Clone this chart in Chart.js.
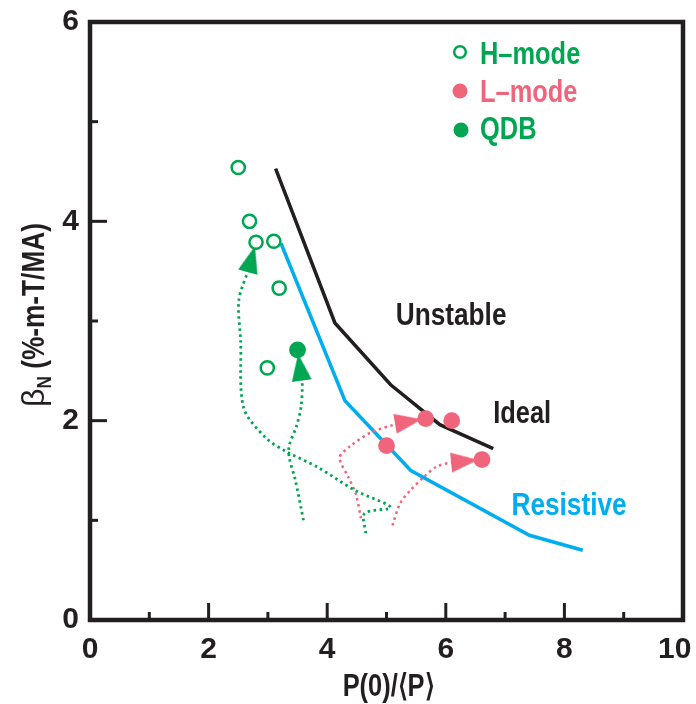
<!DOCTYPE html>
<html><head><meta charset="utf-8">
<script src="https://cdn.jsdelivr.net/npm/chart.js@4.4.1/dist/chart.umd.min.js"></script>
<style>html,body{margin:0;padding:0;background:#fff}#wrap{width:696px;height:704px}</style>
</head><body><div id="wrap"><canvas id="c" width="696" height="704"></canvas></div>
<script>
// ---------- data ----------
const seriesNames = ['H\u2013mode', 'L\u2013mode', 'QDB'];
const hModeX = [2.50, 2.69, 2.80, 3.10, 3.19, 2.99];
const hModeY = [4.54, 4.00, 3.79, 3.80, 3.33, 2.53];
const lModeX = [5.66, 6.10, 5.00, 6.61];
const lModeY = [2.02, 2.00, 1.75, 1.61];
const qdbX = [3.50];
const qdbY = [2.71];
const curveNames = ['Ideal', 'Resistive'];
const idealX = [3.13, 4.13, 5.07, 5.90, 6.80];
const idealY = [4.53, 2.98, 2.36, 1.96, 1.72];
const resistiveX = [3.22, 4.30, 5.41, 7.41, 8.31];
const resistiveY = [3.78, 2.20, 1.50, 0.85, 0.70];
// dotted trajectories; each ends on the marker its arrow points to
const trajQdbX = [3.60, 3.46, 3.36, 3.36, 3.48, 3.56, 3.58, 3.56, 3.50];
const trajQdbY = [1.00, 1.41, 1.63, 1.75, 1.94, 2.14, 2.38, 2.45, 2.71];
const trajHX = [4.65, 4.63, 5.07, 4.47, 3.85, 3.31, 2.96, 2.59, 2.54, 2.51, 2.68, 2.80];
const trajHY = [0.87, 1.07, 1.13, 1.30, 1.53, 1.69, 1.83, 2.13, 2.81, 3.21, 3.53, 3.79];
const trajL1X = [4.57, 4.48, 4.35, 4.21, 4.38, 4.73, 5.13, 5.26, 5.66];
const trajL1Y = [1.02, 1.27, 1.44, 1.63, 1.74, 1.88, 1.96, 1.98, 2.02];
const trajL2X = [5.10, 5.23, 5.40, 5.64, 5.85, 6.10, 6.61];
const trajL2Y = [0.95, 1.17, 1.30, 1.44, 1.54, 1.58, 1.61];
const xTickLabels = [0, 2, 4, 6, 8, 10];
const yTickLabels = [0, 2, 4, 6];
const regionLabel = 'Unstable';
const xTitle = 'P(0)/\u27E8P\u27E9';
const yTitleSymbol = '\u03B2', yTitleSub = 'N', yTitleRest = ' (%-m-T/MA)';

// ---------- style ----------
const INK = '#231F20', GREEN = '#00A651', PINK = '#F0657B', BLUE = '#00AEEF';
const FONT = "'Liberation Sans', Arial, sans-serif";
const NARROW = 0.82;   // Helvetica-Condensed look: horizontally compressed bold sans

const zip = (xs, ys) => xs.map((v, i) => ({x: v, y: ys[i]}));

function arrowCanvas(color) {
  const L = 27, W = 20, off = 4, S = 2 * (L + off) + 2;
  const c = document.createElement('canvas');
  c.width = S; c.height = S;
  const g = c.getContext('2d');
  const m = S / 2;
  g.fillStyle = color;
  g.beginPath();
  g.moveTo(m, m + off);
  g.lineTo(m - W / 2, m + off + L);
  g.lineTo(m + W / 2, m + off + L);
  g.closePath();
  g.fill();
  return c;
}
function arrowRotation(xs, ys) {
  return (ctx) => {
    const ch = ctx.chart, sx = ch.scales.x, sy = ch.scales.y, n = xs.length;
    if (!sx || !sy) return 0;
    const dx = sx.getPixelForValue(xs[n - 1]) - sx.getPixelForValue(xs[n - 2]);
    const dy = sy.getPixelForValue(ys[n - 1]) - sy.getPixelForValue(ys[n - 2]);
    return Math.atan2(dx, -dy) * 180 / Math.PI;
  };
}
function trajectory(xs, ys, color, width) {
  return {data: zip(xs, ys), showLine: true, borderColor: color, borderWidth: width,
          borderDash: [2.5, 3.5], borderCapStyle: 'butt', pointRadius: 0, tension: 0.3, fill: false, order: 3};
}
function arrow(xs, ys, color) {
  const n = xs.length;
  return {data: [{x: xs[n - 1], y: ys[n - 1]}], showLine: false, pointStyle: arrowCanvas(color),
          rotation: arrowRotation(xs, ys), pointRadius: 12, order: 1};
}

const datasets = [
  {label: curveNames[0], data: zip(idealX, idealY), showLine: true, borderColor: INK, borderWidth: 3.5, pointRadius: 0, tension: 0, order: 4},
  {label: curveNames[1], data: zip(resistiveX, resistiveY), showLine: true, borderColor: BLUE, borderWidth: 3.5, pointRadius: 0, tension: 0, order: 4},
  trajectory(trajQdbX, trajQdbY, GREEN, 2.8),
  trajectory(trajHX, trajHY, GREEN, 2.8),
  trajectory(trajL1X, trajL1Y, PINK, 2.5),
  trajectory(trajL2X, trajL2Y, PINK, 2.5),
  arrow(trajQdbX, trajQdbY, GREEN),
  arrow(trajHX, trajHY, GREEN),
  arrow(trajL1X, trajL1Y, PINK),
  arrow(trajL2X, trajL2Y, PINK),
  {label: seriesNames[0], data: zip(hModeX, hModeY), showLine: false, pointStyle: 'circle', pointRadius: 6.6,
   pointBorderWidth: 2.5, pointBorderColor: GREEN, pointBackgroundColor: '#ffffff', order: 0},
  {label: seriesNames[1], data: zip(lModeX, lModeY), showLine: false, pointStyle: 'circle', pointRadius: 8.4,
   pointBorderWidth: 0, pointBorderColor: PINK, pointBackgroundColor: PINK, order: 0},
  {label: seriesNames[2], data: zip(qdbX, qdbY), showLine: false, pointStyle: 'circle', pointRadius: 8.4,
   pointBorderWidth: 0, pointBorderColor: GREEN, pointBackgroundColor: GREEN, order: 0}
];

// draw horizontally-compressed text; returns drawn width
function narrowText(ctx, text, x, y, size, color, align, weight) {
  ctx.save();
  ctx.font = `${weight || 'bold'} ${size}px ${FONT}`;
  ctx.fillStyle = color;
  ctx.textAlign = 'left';
  ctx.textBaseline = 'alphabetic';
  const w = ctx.measureText(text).width * NARROW;
  let x0 = x;
  if (align === 'center') x0 = x - w / 2;
  else if (align === 'right') x0 = x - w;
  ctx.translate(x0, y);
  ctx.scale(NARROW, 1);
  ctx.fillText(text, 0, 0);
  ctx.restore();
  return w;
}
function narrowWidth(ctx, text, size, weight) {
  ctx.save();
  ctx.font = `${weight || 'bold'} ${size}px ${FONT}`;
  const w = ctx.measureText(text).width * NARROW;
  ctx.restore();
  return w;
}

const framePlugin = {
  id: 'frame',
  afterDraw(chart) {
    const {ctx, chartArea: a, scales: {x, y}} = chart;
    ctx.save();
    ctx.strokeStyle = INK;
    ctx.lineWidth = 3;
    x.ticks.forEach(t => {
      if (t.value <= x.min || t.value >= x.max) return;
      const p = x.getPixelForValue(t.value), len = t.value % 2 === 0 ? 17 : 8;
      ctx.beginPath(); ctx.moveTo(p, a.bottom); ctx.lineTo(p, a.bottom - len); ctx.stroke();
    });
    y.ticks.forEach(t => {
      if (t.value <= y.min || t.value >= y.max) return;
      const p = y.getPixelForValue(t.value), len = t.value % 2 === 0 ? 17 : 8;
      ctx.beginPath(); ctx.moveTo(a.left, p); ctx.lineTo(a.left + len, p); ctx.stroke();
    });
    ctx.lineWidth = 4.5;
    ctx.lineJoin = 'miter';
    ctx.strokeRect(a.left, a.top, a.right - a.left, a.bottom - a.top);
    ctx.restore();
  }
};

const textPlugin = {
  id: 'texts',
  afterDraw(chart) {
    const {ctx, chartArea: a, scales: {x, y}} = chart;
    // region / curve labels (anchored in data space)
    narrowText(ctx, regionLabel, x.getPixelForValue(5.155), y.getPixelForValue(2.96), 32, INK, 'left');
    narrowText(ctx, curveNames[0], x.getPixelForValue(6.80), y.getPixelForValue(1.98), 31, INK, 'left');
    narrowText(ctx, curveNames[1], x.getPixelForValue(7.107), y.getPixelForValue(1.053), 32, BLUE, 'left');
    // legend
    const items = [
      {name: seriesNames[0], color: GREEN, open: true, mx: 460, my: 52, base: 63.5},
      {name: seriesNames[1], color: PINK, open: false, mx: 460, my: 91, base: 102},
      {name: seriesNames[2], color: GREEN, open: false, mx: 461, my: 130, base: 138.5}
    ];
    ctx.save();
    items.forEach(it => {
      ctx.beginPath();
      if (it.open) {
        ctx.arc(it.mx, it.my, 5.8, 0, Math.PI * 2);
        ctx.lineWidth = 2.5; ctx.strokeStyle = it.color; ctx.stroke();
      } else {
        ctx.arc(it.mx, it.my, 7.5, 0, Math.PI * 2);
        ctx.fillStyle = it.color; ctx.fill();
      }
    });
    ctx.restore();
    items.forEach(it => narrowText(ctx, it.name, 480, it.base, 31, it.color, 'left'));
    // x-axis title
    narrowText(ctx, xTitle, (a.left + a.right) / 2 + 2, 696, 31, INK, 'center');
    // y-axis title with subscript, rotated
    const s1 = 32, s2 = 21, s3 = 32;
    ctx.save();
    ctx.font = `${s1}px ${FONT}`;
    const w1 = ctx.measureText(yTitleSymbol).width;
    ctx.restore();
    const w2 = narrowWidth(ctx, yTitleSub, s2);
    const w3 = narrowWidth(ctx, yTitleRest, s3);
    const total = w1 + w2 + w3;
    const cy = (a.top + a.bottom) / 2 - 6;
    ctx.save();
    ctx.translate(33, cy);
    ctx.rotate(-Math.PI / 2);
    let s = -total / 2;
    ctx.save();
    ctx.font = `${s1}px ${FONT}`;
    ctx.fillStyle = INK; ctx.textBaseline = 'alphabetic';
    ctx.fillText(yTitleSymbol, s, 11);
    ctx.restore();
    s += w1;
    narrowText(ctx, yTitleSub, s, 18, s2, INK, 'left'); s += w2;
    narrowText(ctx, yTitleRest, s, 11, s3, INK, 'left');
    ctx.restore();
  }
};

const tickFont = {family: FONT, size: 30, weight: 'bold'};
new Chart(document.getElementById('c'), {
  type: 'scatter',
  data: {datasets},
  options: {
    responsive: false, animation: false, devicePixelRatio: 1,
    layout: {padding: {top: 22, right: 8, left: 0, bottom: 0}},
    plugins: {legend: {display: false}, tooltip: {enabled: false}},
    scales: {
      x: {
        type: 'linear', min: 0, max: 10,
        grid: {display: false, drawTicks: false}, border: {display: false},
        ticks: {stepSize: 1, autoSkip: false, maxRotation: 0, padding: 12, color: INK, font: tickFont,
                callback: v => xTickLabels.includes(v) ? (v === 10 ? v + '  ' : String(v)) : ''},
        title: {display: false, text: xTitle},
        afterFit(s) { s.height = 84; s.paddingLeft = 0; s.paddingRight = 0; }
      },
      y: {
        type: 'linear', min: 0, max: 6,
        grid: {display: false, drawTicks: false}, border: {display: false},
        ticks: {stepSize: 1, autoSkip: false, padding: 11, color: INK, font: tickFont,
                callback: v => yTickLabels.includes(v) ? String(v) : ''},
        afterFit(s) { s.width = 90; s.paddingTop = 0; s.paddingBottom = 0; }
      }
    }
  },
  plugins: [framePlugin, textPlugin]
});
</script>
</body></html>
